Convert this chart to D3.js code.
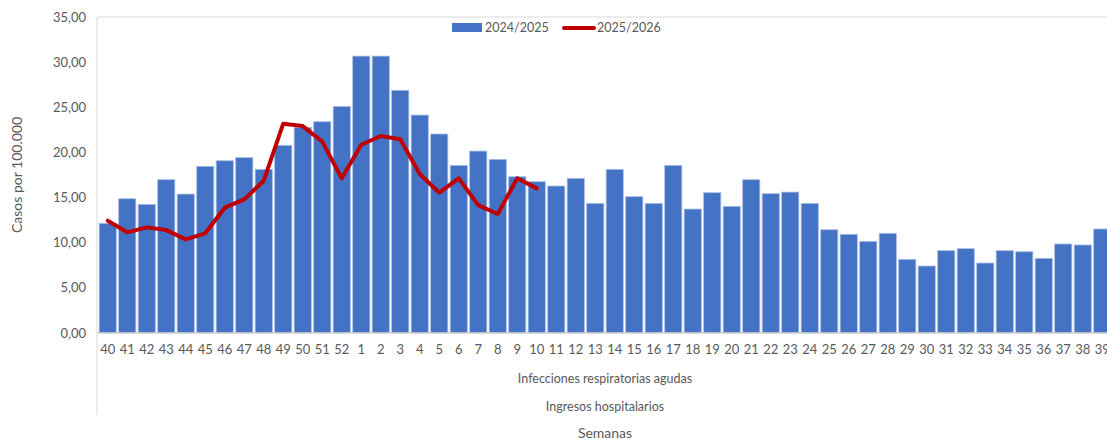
<!DOCTYPE html>
<html>
<head>
<meta charset="utf-8">
<script src="https://cdn.jsdelivr.net/npm/d3@7"></script>
<style>
  body { margin: 0; background: #fff; overflow: hidden; }
  svg { display: block; font-family: Lato, "Open Sans", sans-serif; }
</style>
</head>
<body>
<svg id="chart" width="1107" height="444"></svg>
<script>
// semanas epidemiologicas, de la 40 a la 39
var weeks = ["40","41","42","43","44","45","46","47","48","49","50","51","52",
  "1","2","3","4","5","6","7","8","9","10","11","12","13","14","15","16","17",
  "18","19","20","21","22","23","24","25","26","27","28","29","30","31","32",
  "33","34","35","36","37","38","39"];

var season2425 = [12.15,14.87,14.25,16.98,15.39,18.46,19.08,19.42,18.13,20.79,22.78,23.40,25.10,
  30.67,30.67,26.88,24.14,22.04,18.57,20.15,19.23,17.31,16.76,16.28,17.13,14.36,18.13,15.10,14.36,18.57,
  13.73,15.54,14.03,16.98,15.43,15.61,14.36,11.44,10.93,10.15,11.04,8.16,7.42,9.12,9.34,
  7.75,9.12,9.00,8.27,9.86,9.75,11.52];

// temporada actual, solo hasta la semana 10
var season2526 = [12.44,11.15,11.70,11.40,10.37,11.04,13.88,14.80,16.87,23.18,22.92,21.19,17.13,
  20.85,21.82,21.45,17.61,15.54,17.13,14.17,13.18,17.13,16.02];

var yTicks = [0,5,10,15,20,25,30,35];
var seriesNames = ["2024/2025","2025/2026"];

var svg = d3.select("#chart");
var grey = "#595959";
var plotLeft = 98, plotRight = 1112, plotTop = 17, plotBottom = 333;

var x = d3.scaleBand().domain(weeks).range([plotLeft, plotRight]).paddingInner(0.12).paddingOuter(0.06);
var y = d3.scaleLinear().domain([0, 35]).range([plotBottom, plotTop]);
var fmt = d3.format(".2f");

// marco superior e izquierdo
svg.append("line").attr("x1", plotLeft - 1).attr("x2", 1107).attr("y1", plotTop).attr("y2", plotTop)
  .attr("stroke", "#d9d9d9");
svg.append("line").attr("x1", plotLeft - 1).attr("x2", plotLeft - 1).attr("y1", plotTop).attr("y2", 415)
  .attr("stroke", "#d9d9d9");

// barras
svg.append("g").selectAll("rect")
  .data(season2425)
  .join("rect")
  .attr("x", (d, i) => x(weeks[i]))
  .attr("width", x.bandwidth())
  .attr("y", d => y(d))
  .attr("height", d => y(0) - y(d))
  .attr("fill", "#4472c4")
  .attr("stroke", "#a9bfe6")
  .attr("stroke-width", 0.8);

// eje x
svg.append("line").attr("x1", plotLeft - 1).attr("x2", 1107).attr("y1", plotBottom).attr("y2", plotBottom)
  .attr("stroke", "#d0d0d0").attr("stroke-width", 1.5);

svg.append("g").selectAll("text")
  .data(weeks)
  .join("text")
  .attr("x", d => x(d) + x.bandwidth() / 2)
  .attr("y", 354)
  .attr("text-anchor", "middle")
  .attr("fill", grey)
  .attr("font-size", 13)
  .text(d => d);

// eje y
svg.append("g").selectAll("text")
  .data(yTicks)
  .join("text")
  .attr("x", 86)
  .attr("y", d => y(d) + 4.5)
  .attr("text-anchor", "end")
  .attr("fill", grey)
  .attr("font-size", 13)
  .text(d => fmt(d).replace(".", ","));

svg.append("text")
  .attr("transform", "translate(22,175) rotate(-90)")
  .attr("text-anchor", "middle")
  .attr("fill", grey)
  .attr("font-size", 14)
  .text("Casos por 100.000");

// niveles de categoria
svg.append("text").attr("x", 605).attr("y", 383).attr("text-anchor", "middle")
  .attr("fill", grey).attr("font-size", 12.5).text("Infecciones respiratorias agudas");
svg.append("text").attr("x", 605).attr("y", 411).attr("text-anchor", "middle")
  .attr("fill", grey).attr("font-size", 12.5).text("Ingresos hospitalarios");
svg.append("text").attr("x", 605).attr("y", 438).attr("text-anchor", "middle")
  .attr("fill", grey).attr("font-size", 14).text("Semanas");

// linea 2025/2026
var line = d3.line()
  .x((d, i) => x(weeks[i]) + x.bandwidth() / 2)
  .y(d => y(d));

svg.append("path")
  .datum(season2526)
  .attr("d", line)
  .attr("fill", "none")
  .attr("stroke", "#c00000")
  .attr("stroke-width", 4)
  .attr("stroke-linejoin", "round")
  .attr("stroke-linecap", "round");

// leyenda
var lg = svg.append("g");
lg.append("rect").attr("x", 452).attr("y", 23).attr("width", 30).attr("height", 9).attr("fill", "#4472c4");
lg.append("text").attr("x", 485).attr("y", 32).attr("fill", grey).attr("font-size", 12.5).text(seriesNames[0]);
lg.append("line").attr("x1", 564).attr("x2", 594).attr("y1", 28).attr("y2", 28)
  .attr("stroke", "#c00000").attr("stroke-width", 4).attr("stroke-linecap", "round");
lg.append("text").attr("x", 597).attr("y", 32).attr("fill", grey).attr("font-size", 12.5).text(seriesNames[1]);
</script>
</body>
</html>
